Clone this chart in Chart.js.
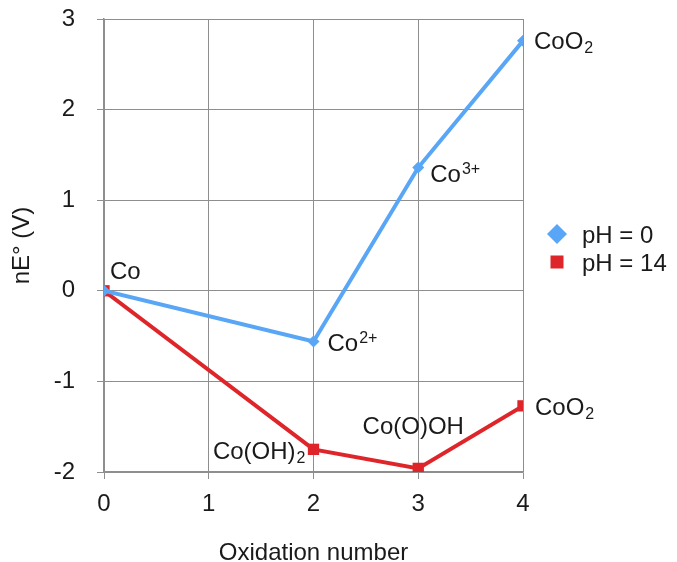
<!DOCTYPE html>
<html>
<head>
<meta charset="utf-8">
<script src="https://cdn.jsdelivr.net/npm/chart.js@4/dist/chart.umd.min.js"></script>
<style>
  html, body { margin: 0; padding: 0; background: #fff; }
  #wrap { width: 677px; height: 562px; }
</style>
</head>
<body>
<div id="wrap"><canvas id="chart" width="677" height="562"></canvas></div>
<script>
// oxidation states on the x axis
const oxidation = [0, 2, 3, 4];
// nE° values (V)
const ph0Values = [0, -0.56, 1.36, 2.76];
const ph14Values = [0, -1.75, -1.96, -1.27];
// species names ('^' = superscript, '_' = subscript)
const ph0Species = ['Co', 'Co^2+', 'Co^3+', 'CoO_2'];
const ph14Species = ['', 'Co(OH)_2', 'Co(O)OH', 'CoO_2'];
const seriesNames = ['pH = 0', 'pH = 14'];
const xTicks = [0, 1, 2, 3, 4];
const yTicks = [-2, -1, 0, 1, 2, 3];

const FONT = '"Liberation Sans", Arial, Helvetica, sans-serif';
const BLUE = 'rgb(88, 166, 245)';
const RED = 'rgb(222, 38, 42)';
const TEXT = '#1a1a1a';
const GRID = '#8e8e8e';

const toPoints = (vals) => vals.map((v, i) => ({ x: oxidation[i], y: v }));

// where each species label sits relative to its point: [dx, dy, align]
const ph0Place = [[6, -20, 'left'], [14, 1, 'left'], [12, 6, 'left'], [11, 0, 'left']];
const ph14Place = [[0, 0, 'left'], [-8, 1, 'right'], [-5, -43, 'center'], [12, 1, 'left']];

function drawRich(ctx, text, x, y, align) {
  let base = text, script = '', kind = '';
  const m = text.match(/^(.*?)([\^_])(.*)$/);
  if (m) { base = m[1]; kind = m[2]; script = m[3]; }
  ctx.font = '24px ' + FONT;
  const wb = ctx.measureText(base).width;
  ctx.font = '16px ' + FONT;
  const ws = script ? ctx.measureText(script).width + 1 : 0;
  const total = wb + ws;
  let left = x;
  if (align === 'right') left = x - total;
  if (align === 'center') left = x - total / 2;
  const baseline = y + 8.5;
  ctx.fillStyle = TEXT;
  ctx.textAlign = 'left';
  ctx.textBaseline = 'alphabetic';
  ctx.font = '24px ' + FONT;
  ctx.fillText(base, left, baseline);
  if (script) {
    ctx.font = '16px ' + FONT;
    const sy = kind === '^' ? baseline - 8 : baseline + 4;
    ctx.fillText(script, left + wb + 1, sy);
  }
}

const labelPlugin = {
  id: 'speciesLabels',
  afterDatasetsDraw(chart) {
    const ctx = chart.ctx;
    const sets = [[0, ph0Species, ph0Place], [1, ph14Species, ph14Place]];
    ctx.save();
    sets.forEach(([di, names, place]) => {
      const meta = chart.getDatasetMeta(di);
      meta.data.forEach((pt, i) => {
        if (!names[i]) return;
        const [dx, dy, align] = place[i];
        drawRich(ctx, names[i], pt.x + dx, pt.y + dy, align);
      });
    });
    ctx.restore();
  }
};

const legendPlugin = {
  id: 'sideLegend',
  afterDraw(chart) {
    const ctx = chart.ctx;
    const a = chart.chartArea;
    const mx = a.right + 34;
    const tx = a.right + 59;
    const rows = [a.top + 215, a.top + 243];
    ctx.save();
    // diamond
    ctx.fillStyle = BLUE;
    ctx.beginPath();
    ctx.moveTo(mx, rows[0] - 10);
    ctx.lineTo(mx + 10, rows[0]);
    ctx.lineTo(mx, rows[0] + 10);
    ctx.lineTo(mx - 10, rows[0]);
    ctx.closePath();
    ctx.fill();
    // square
    ctx.fillStyle = RED;
    ctx.fillRect(mx - 6.5, rows[1] - 6.5, 13, 13);
    ctx.fillStyle = TEXT;
    ctx.font = '24px ' + FONT;
    ctx.textAlign = 'left';
    ctx.textBaseline = 'middle';
    chart.data.datasets.forEach((ds, i) => {
      ctx.fillText(ds.label, tx, rows[i] + 2);
    });
    ctx.restore();
  }
};

new Chart(document.getElementById('chart'), {
  type: 'line',
  data: {
    datasets: [
      {
        label: seriesNames[0],
        data: toPoints(ph0Values),
        borderColor: BLUE,
        backgroundColor: BLUE,
        borderWidth: 4,
        pointStyle: 'rectRot',
        pointRadius: 6,
        pointBorderWidth: 0,
        tension: 0
      },
      {
        label: seriesNames[1],
        data: toPoints(ph14Values),
        borderColor: RED,
        backgroundColor: RED,
        borderWidth: 4,
        pointStyle: 'rect',
        pointRadius: 8,
        pointBorderWidth: 0,
        tension: 0
      }
    ]
  },
  options: {
    responsive: false,
    animation: false,
    layout: { padding: { top: 19, right: 154, left: 0, bottom: 0 } },
    plugins: {
      legend: { display: false },
      tooltip: { enabled: false }
    },
    scales: {
      x: {
        type: 'linear',
        min: 0,
        max: 4,
        afterBuildTicks: (scale) => { scale.ticks = xTicks.map(v => ({ value: v })); },
        afterFit: (scale) => { scale.height = 90; },
        grid: { color: GRID, lineWidth: 1, tickLength: 7 },
        border: { color: GRID, width: 1.5 },
        ticks: { color: TEXT, font: { family: FONT, size: 24 }, padding: 11 },
        title: {
          display: true,
          text: 'Oxidation number',
          color: TEXT,
          font: { family: FONT, size: 24 },
          padding: { top: 0, bottom: -6 }
        }
      },
      y: {
        type: 'linear',
        min: -2,
        max: 3,
        afterBuildTicks: (scale) => { scale.ticks = yTicks.map(v => ({ value: v })); },
        afterFit: (scale) => {
          scale.width = 104;
          // label padding should not push the plot area down
          scale.paddingTop = 0;
          scale.paddingBottom = 0;
        },
        grid: { color: GRID, lineWidth: 1, tickLength: 7 },
        border: { color: GRID, width: 1.5 },
        ticks: { color: TEXT, font: { family: FONT, size: 24 }, padding: 22 },
        title: {
          display: true,
          text: 'nE° (V)',
          color: TEXT,
          font: { family: FONT, size: 24 },
          padding: { top: 8, bottom: 0 }
        }
      }
    }
  },
  plugins: [labelPlugin, legendPlugin]
});
</script>
</body>
</html>
